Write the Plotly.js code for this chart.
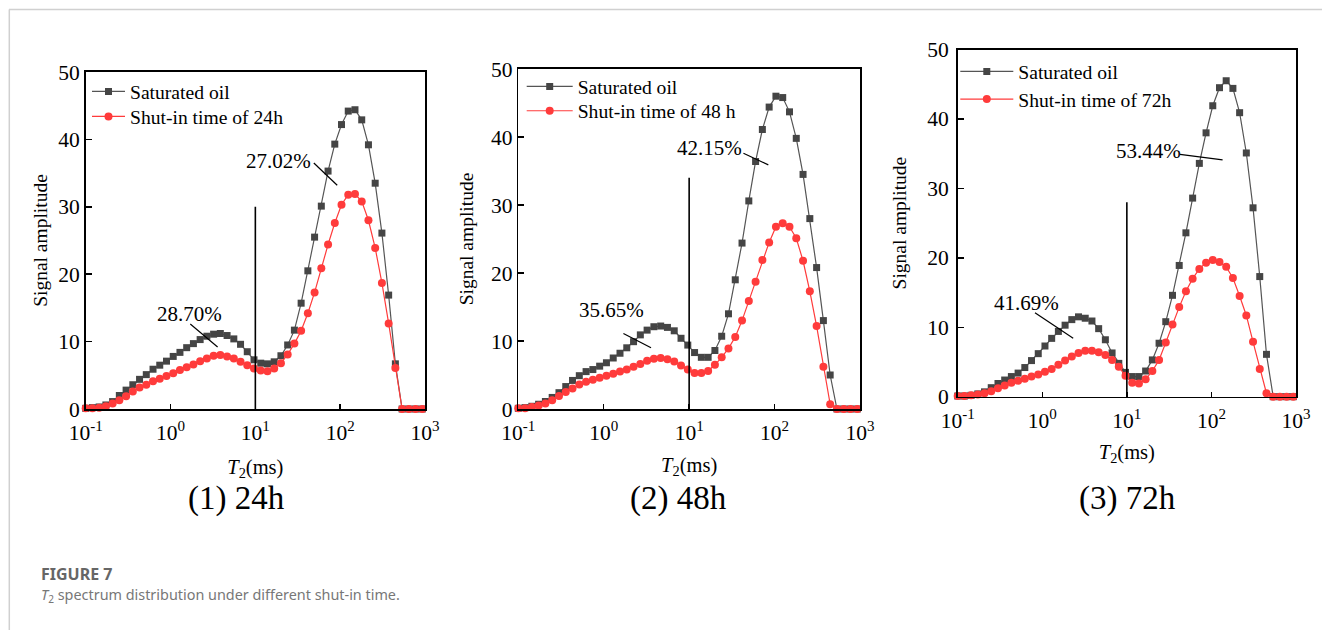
<!DOCTYPE html>
<html>
<head>
<meta charset="utf-8">
<script src="https://cdn.plot.ly/plotly-3.0.1.min.js"></script>
<style>html,body{margin:0;padding:0;background:#fff;}#chart{width:1322px;height:630px;}</style>
</head>
<body>
<div id="chart"></div>
<script>
// T2 relaxation time grid (ms)
const t2 = [0.1, 0.1200, 0.1441, 0.1729, 0.2076, 0.2492, 0.2994, 0.3594, 0.4314, 0.5179,
  0.6217, 0.7464, 0.8961, 1.0758, 1.2915, 1.5505, 1.8611, 2.2344, 2.6827, 3.2203,
  3.8660, 4.6416, 5.5720, 6.6895, 8.0311, 9.6413, 11.574, 13.895, 16.681, 20.026,
  24.042, 28.863, 34.651, 41.598, 49.938, 59.948, 71.969, 86.40, 103.72, 124.52,
  149.48, 179.45, 215.44, 258.64, 310.49, 372.76, 447.50, 537.23, 644.95, 774.26,
  929.52, 1115.9];

const sat24 = [0.1, 0.2, 0.3, 0.6, 1.1, 2.0, 2.8, 3.6, 4.4, 5.1, 5.9, 6.5, 7.1, 7.8, 8.4, 9.1, 9.7, 10.3, 10.8, 11.1,
  11.2, 10.9, 10.4, 9.6, 8.5, 7.3, 6.8, 6.7, 7.0, 7.9, 9.5, 11.7, 15.7, 20.5, 25.5, 30.1, 35.3, 39.3, 42.2, 44.2,
  44.4, 42.9, 39.2, 33.5, 26.1, 16.9, 6.7, 0, 0, 0, 0, 0];
const oil24 = [0.1, 0.1, 0.2, 0.4, 0.8, 1.3, 1.9, 2.6, 3.2, 3.6, 4.1, 4.5, 4.9, 5.3, 5.8, 6.2, 6.6, 7.1, 7.5, 7.9,
  8.0, 7.8, 7.5, 7.0, 6.5, 6.0, 5.7, 5.6, 6.0, 6.8, 8.1, 9.7, 11.6, 14.2, 17.3, 20.9, 24.4, 27.6, 30.3, 31.8,
  31.9, 30.8, 28.0, 23.9, 18.7, 12.7, 6.1, 0, 0, 0, 0, 0];

const sat48 = [0.1, 0.2, 0.4, 0.7, 1.1, 1.7, 2.4, 3.3, 4.2, 4.9, 5.5, 5.8, 6.3, 6.8, 7.5, 8.2, 9.0, 9.9, 10.9, 11.6,
  12.1, 12.2, 12.0, 11.5, 10.4, 9.4, 8.3, 7.6, 7.6, 8.6, 10.7, 14.0, 19.0, 24.4, 30.6, 36.4, 41.1, 44.4, 46.0, 45.8,
  43.7, 39.8, 34.5, 28.0, 20.8, 13.0, 5.0, 0, 0, 0, 0, 0];
const oil48 = [0.1, 0.1, 0.3, 0.5, 0.8, 1.3, 1.9, 2.5, 3.0, 3.6, 4.0, 4.3, 4.6, 4.9, 5.2, 5.5, 5.8, 6.2, 6.6, 7.1,
  7.4, 7.5, 7.3, 7.0, 6.4, 5.8, 5.3, 5.3, 5.6, 6.5, 7.6, 8.9, 10.6, 13.0, 15.9, 18.7, 21.9, 24.5, 26.8, 27.3,
  26.8, 25.1, 21.8, 17.3, 12.2, 6.2, 0.7, 0, 0, 0, 0, 0];

const sat72 = [0.1, 0.1, 0.2, 0.4, 0.7, 1.3, 1.9, 2.4, 2.9, 3.4, 4.2, 5.2, 6.2, 7.3, 8.4, 9.4, 10.3, 11.1, 11.5, 11.3,
  10.9, 9.8, 8.2, 6.3, 4.8, 3.5, 2.9, 2.9, 3.7, 5.3, 7.7, 10.8, 14.6, 18.9, 23.6, 28.6, 33.6, 38.0, 41.9, 44.5,
  45.5, 44.4, 40.9, 35.1, 27.2, 17.3, 6.1, 0, 0, 0, 0, 0];
const oil72 = [0.1, 0.1, 0.2, 0.3, 0.5, 0.8, 1.2, 1.6, 2.0, 2.3, 2.6, 2.9, 3.2, 3.6, 4.0, 4.6, 5.2, 5.8, 6.3, 6.6,
  6.6, 6.4, 6.0, 5.3, 4.3, 3.0, 2.0, 1.9, 2.5, 3.7, 5.3, 7.8, 10.4, 12.9, 15.2, 17.0, 18.4, 19.3, 19.7, 19.4,
  18.7, 17.1, 14.5, 11.7, 7.9, 4.0, 0.5, 0, 0, 0, 0, 0];

const seriesNames = ["Saturated oil", "Shut-in time of 24h", "Shut-in time of 48 h", "Shut-in time of 72h"];
const panelLabels = ["(1) 24h", "(2) 48h", "(3) 72h"];
const ratioSmall = ["28.70%", "35.65%", "41.69%"];
const ratioLarge = ["27.02%", "42.15%", "53.44%"];
const cutoffT2 = [10, 10];
const cutoffTop = [30, 34, 28];
const tickVals = [0.1, 1, 10, 100, 1000];
const tickText = ["10<sup>-1</sup>", "10<sup>0</sup>", "10<sup>1</sup>", "10<sup>2</sup>", "10<sup>3</sup>"];

const W = 1322, H = 630;
const px = v => v / W;
const py = v => 1 - v / H;
const SERIF = "Liberation Serif, Times New Roman, serif";
const GREY = "#454545", RED = "#ff3b3b";

// per-panel layout (pixels): plot box [left, right, top, bottom]; legend [textX, y1, y2, itemwidth]
const panels = [
  {sat: sat24, oil: oil24, name: seriesNames[1], xa: 'x', ya: 'y', lg: ['legend', 'legend2'],
    dom: [85.7, 425, 72, 409], top: cutoffTop[0], leg: [130, 91.7, 116.7, 33], ytStand: 5, ylabStand: 0, xtStand: 15},
  {sat: sat48, oil: oil48, name: seriesNames[2], xa: 'x2', ya: 'y2', lg: ['legend3', 'legend4'],
    dom: [518.3, 860, 69, 409], top: cutoffTop[1], leg: [577.7, 86.7, 111, 46], ytStand: 11.5, ylabStand: 0, xtStand: 13},
  {sat: sat72, oil: oil72, name: seriesNames[3], xa: 'x3', ya: 'y3', lg: ['legend5', 'legend6'],
    dom: [957.7, 1296, 49.5, 396.7], top: cutoffTop[2], leg: [1018.3, 71.7, 99.3, 53], ytStand: 15, ylabStand: 3, xtStand: 12}
];

const data = [];
panels.forEach(p => {
  data.push({x: t2, y: p.sat, xaxis: p.xa, yaxis: p.ya, legend: p.lg[0], name: seriesNames[0], type: 'scatter',
    mode: 'lines+markers', cliponaxis: false, line: {color: '#555555', width: 1.2},
    marker: {symbol: 'square', size: 7, color: GREY}});
  data.push({x: t2, y: p.oil, xaxis: p.xa, yaxis: p.ya, legend: p.lg[1], name: p.name, type: 'scatter',
    mode: 'lines+markers', cliponaxis: false, line: {color: RED, width: 1.2},
    marker: {symbol: 'circle', size: 8, color: RED}});
  data.push({x: cutoffT2, y: [0, p.top], xaxis: p.xa, yaxis: p.ya, showlegend: false, type: 'scatter',
    mode: 'lines', line: {color: '#000', width: 1.6}, hoverinfo: 'skip'});
});

function xax(p) {
  const dom = p.dom;
  return {type: 'log', range: [-1, 3], domain: [px(dom[0]), px(dom[1])],
    tickvals: tickVals, ticktext: tickText, ticks: 'inside', ticklen: 5, tickwidth: 1.5, tickcolor: '#000',
    ticklabelstandoff: 4,
    showline: true, linecolor: '#000', linewidth: 1.6, mirror: true, showgrid: false, zeroline: false,
    tickfont: {family: SERIF, size: 21.5, color: '#000'},
    title: {text: '<i>T</i><sub>2</sub>(ms)', font: {family: SERIF, size: 20.5, color: '#000'}, standoff: p.xtStand}};
}
function yax(p) {
  const dom = p.dom;
  return {range: [0, 50], domain: [py(dom[3]), py(dom[2])], tickvals: [0, 10, 20, 30, 40, 50],
    ticks: 'inside', ticklen: 6, tickwidth: 1.5, tickcolor: '#000', ticklabelstandoff: p.ylabStand,
    showline: true, linecolor: '#000', linewidth: 1.6, mirror: true, showgrid: false, zeroline: false,
    tickfont: {family: SERIF, size: 21.5, color: '#000'},
    title: {text: 'Signal amplitude', font: {family: SERIF, size: 19.5, color: '#000'}, standoff: p.ytStand}};
}

const layout = {
  width: W, height: H, margin: {l: 0, r: 0, t: 0, b: 0}, paper_bgcolor: '#fff', plot_bgcolor: '#fff',
  showlegend: true, hovermode: false,
  xaxis: Object.assign(xax(panels[0]), {anchor: 'y'}),
  yaxis: Object.assign(yax(panels[0]), {anchor: 'x'}),
  xaxis2: Object.assign(xax(panels[1]), {anchor: 'y2'}),
  yaxis2: Object.assign(yax(panels[1]), {anchor: 'x2'}),
  xaxis3: Object.assign(xax(panels[2]), {anchor: 'y3'}),
  yaxis3: Object.assign(yax(panels[2]), {anchor: 'x3'}),
  annotations: [],
  shapes: [
    {type: 'line', xref: 'paper', yref: 'paper', x0: px(9), x1: 1, y0: py(9.5), y1: py(9.5), line: {color: '#d0d0d0', width: 1.5}},
    {type: 'line', xref: 'paper', yref: 'paper', x0: px(9.3), x1: px(9.3), y0: py(9.5), y1: 0, line: {color: '#d0d0d0', width: 1.5}}
  ]
};

panels.forEach(p => {
  const iw = p.leg[3];
  const textOff = iw + 10;
  [p.leg[1], p.leg[2]].forEach((yc, j) => {
    layout[p.lg[j]] = {x: px(p.leg[0] - textOff), y: py(yc), xanchor: 'left', yanchor: 'middle',
      bgcolor: 'rgba(0,0,0,0)', borderwidth: 0, font: {family: SERIF, size: 19.6, color: '#000'},
      itemwidth: iw, itemclick: false, tracegroupgap: 0};
  });
});

// ratio labels and leader lines: [xa, ya, label, textLogX, textY, lineX0, lineY0, lineX1, lineY1]
const labelSpecs = [
  ['x', 'y', ratioLarge[0], 1.278, 36.8, 48.9, 36.5, 92.3, 33.2],
  ['x', 'y', ratioSmall[0], 0.226, 14.1, 1.71, 12.6, 3.59, 9.2],
  ['x2', 'y2', ratioLarge[1], 1.239, 38.4, 43.2, 37.6, 84.5, 35.9],
  ['x2', 'y2', ratioSmall[1], 0.091, 14.6, 1.70, 11.1, 3.58, 9.0],
  ['x3', 'y3', ratioLarge[2], 1.255, 35.4, 42.5, 34.9, 135.5, 34.1],
  ['x3', 'y3', ratioSmall[2], -0.187, 13.5, 0.82, 12.1, 2.32, 8.4]
];
labelSpecs.forEach(s => {
  layout.annotations.push({xref: s[0], yref: s[1], x: s[3], y: s[4], text: s[2], showarrow: false,
    font: {family: SERIF, size: 21, color: '#000'}, xanchor: 'center', yanchor: 'middle'});
  layout.shapes.push({type: 'line', xref: s[0], yref: s[1], x0: s[5], y0: s[6], x1: s[7], y1: s[8],
    line: {color: '#000', width: 1.2}});
});

const captionX = [236, 678, 1127];
panelLabels.forEach((t, i) => {
  layout.annotations.push({xref: 'paper', yref: 'paper', x: px(captionX[i]), y: py(498), text: t, showarrow: false,
    font: {family: SERIF, size: 33, color: '#000'}, xanchor: 'center', yanchor: 'middle'});
});
layout.annotations.push({xref: 'paper', yref: 'paper', x: px(39), y: py(574), text: '<b>FIGURE 7</b>', showarrow: false,
  font: {family: 'Noto Sans, Open Sans, sans-serif', size: 16, color: '#666'}, xanchor: 'left', yanchor: 'middle'});
layout.annotations.push({xref: 'paper', yref: 'paper', x: px(39), y: py(595),
  text: '<i>T</i><sub>2</sub> spectrum distribution under different shut-in time.', showarrow: false,
  font: {family: 'Noto Sans, Open Sans, sans-serif', size: 14.4, color: '#777'}, xanchor: 'left', yanchor: 'middle'});

Plotly.newPlot('chart', data, layout, {staticPlot: true, displayModeBar: false});
</script>
</body>
</html>
